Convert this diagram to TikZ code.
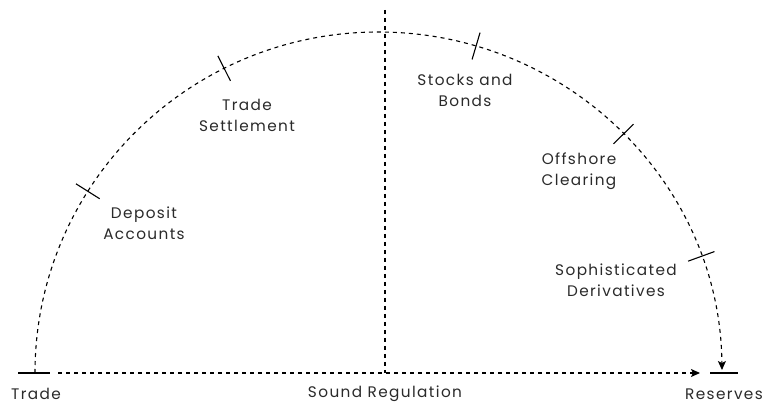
\documentclass[tikz,border=0pt]{standalone}
\usepackage{fontspec}
\setmainfont{Poppins}[LetterSpace=9]
\usetikzlibrary{arrows.meta,calc}
\definecolor{txt}{HTML}{2A2A2A}
\tikzset{
  dashline/.style={line width=1.1pt, dash pattern=on 4pt off 4pt},
  tickline/.style={line width=1.1pt},
  lbl/.style={font=\fontsize{15.3}{21}\selectfont, text=txt, align=center, inner sep=0pt},
  tip/.style={-{Stealth[length=9pt,width=8pt,inset=2pt]}}
}
\begin{document}
\begin{tikzpicture}[x=1pt,y=1pt]
\useasboundingbox (0,0) rectangle (765,409);
\coordinate (c) at (378.5,36);
\coordinate (trade) at (35,36);
\coordinate (reserves) at (722,36);
\coordinate (hstart) at (58,36);
\coordinate (hend) at (700,36);
\coordinate (vtop) at (385,399);
\coordinate (vbot) at (385,36);
% arc
\draw[dashline,tip] (trade) arc[start angle=180, end angle=0.5, x radius=343.5, y radius=341];
% base line
\draw[dashline,tip] (hstart) -- (hend);
% vertical
\draw[dashline] (vtop) -- (vbot);
% end ticks
\draw[tickline] ($(trade)+(-17,0)$) -- ($(trade)+(15,0)$);
\draw[tickline] ($(reserves)+(-12,0)$) -- ($(reserves)+(16,0)$);
% arc ticks
\foreach \a/\n in {147.8/dep,116.7/set,73.5/stk,44.5/off,20/der}{
  \draw[tickline] ([shift={(\a:329.5 and 327)}]c) coordinate (\n in) -- ([shift={(\a:357.5 and 355)}]c) coordinate (\n out);
}
% labels
\node[lbl] (ltrade) at (36,15) {Trade};
\node[lbl] (lsound) at (385,15) {Sound Regulation};
\node[lbl] (lres) at (724,15) {Reserves};
\node[lbl] (ldep) at (144,186) {Deposit\\Accounts};
\node[lbl] (lset) at (247,294) {Trade\\Settlement};
\node[lbl] (lstk) at (465,319) {Stocks and\\Bonds};
\node[lbl] (loff) at (579,238) {Offshore\\Clearing};
\node[lbl] (lder) at (616,129) {Sophisticated\\Derivatives};
\end{tikzpicture}
\end{document}
